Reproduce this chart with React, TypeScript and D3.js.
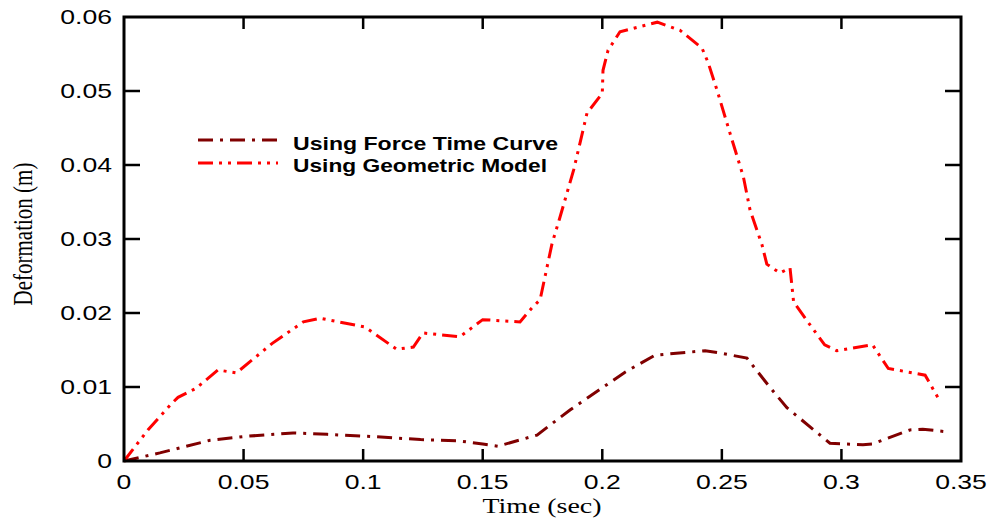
import React from "react";
import * as d3 from "d3";

const forceT = [0, 0.015, 0.036, 0.0498, 0.0707, 0.085, 0.104, 0.124, 0.1405, 0.15, 0.1564, 0.1727, 0.1865, 0.2095, 0.222, 0.243, 0.2492, 0.2605, 0.27, 0.2772, 0.2952, 0.309, 0.313, 0.3287, 0.334, 0.3454];
const forceD = [0, 0.0011, 0.0028, 0.0033, 0.0038, 0.0036, 0.0033, 0.0029, 0.0027, 0.0023, 0.002, 0.0035, 0.0069, 0.012, 0.0143, 0.0149, 0.0146, 0.0139, 0.01, 0.0072, 0.0024, 0.0022, 0.0023, 0.0042, 0.0043, 0.0039];

const geoT = [0, 0.01, 0.02, 0.0226, 0.03, 0.0393, 0.047, 0.062, 0.075, 0.082, 0.1008, 0.114, 0.121, 0.125, 0.1405, 0.15, 0.1656, 0.1706, 0.174, 0.179, 0.182, 0.188, 0.1907, 0.1936, 0.2, 0.2003, 0.2024, 0.2074, 0.223, 0.2325, 0.2417, 0.2443, 0.248, 0.2534, 0.259, 0.2618, 0.2668, 0.2688, 0.2743, 0.2785, 0.28, 0.2855, 0.293, 0.298, 0.313, 0.3196, 0.335, 0.341];
const geoD = [0, 0.0042, 0.0078, 0.0086, 0.0098, 0.0123, 0.0119, 0.0159, 0.0188, 0.0193, 0.0181, 0.0151, 0.0154, 0.0173, 0.0168, 0.0191, 0.0188, 0.0207, 0.0218, 0.0294, 0.0326, 0.0393, 0.043, 0.047, 0.0497, 0.0528, 0.0555, 0.058, 0.0593, 0.0582, 0.0558, 0.0538, 0.0501, 0.0443, 0.0384, 0.0339, 0.0292, 0.0266, 0.0254, 0.0261, 0.0215, 0.019, 0.0157, 0.0149, 0.0157, 0.0125, 0.0116, 0.0082];

const xTicks = [0, 0.05, 0.1, 0.15, 0.2, 0.25, 0.3, 0.35];
const xTickLabels = ["0", "0.05", "0.1", "0.15", "0.2", "0.25", "0.3", "0.35"];
const yTicks = [0, 0.01, 0.02, 0.03, 0.04, 0.05, 0.06];
const yTickLabels = ["0", "0.01", "0.02", "0.03", "0.04", "0.05", "0.06"];

const seriesNames = ["Using Force Time Curve", "Using Geometric Model"];
const seriesColors = ["#800000", "#ff0000"];

export default function App() {
  const L = 124, R = 961, T = 17, B = 461;
  const x = d3.scaleLinear().domain([0, 0.35]).range([L, R]);
  const y = d3.scaleLinear().domain([0, 0.06]).range([B, T]);
  const line = d3.line<[number, number]>().x(d => x(d[0])).y(d => y(d[1]));
  const forcePts = forceT.map((t, i) => [t, forceD[i]] as [number, number]);
  const geoPts = geoT.map((t, i) => [t, geoD[i]] as [number, number]);
  const sx = 1.33;
  const tickFont = "'Liberation Sans', Arial, sans-serif";
  const serif = "'Liberation Serif', 'Times New Roman', serif";

  return (
    <svg width={996} height={519} style={{ position: "absolute", left: 0, top: 0, background: "#fff" }}>
      <rect x={0} y={0} width={996} height={519} fill="#fff" />
      {/* data */}
      <path d={line(forcePts) || ""} fill="none" stroke={seriesColors[0]} strokeWidth={3} strokeDasharray="15,7,3,7" />
      <path d={line(geoPts) || ""} fill="none" stroke={seriesColors[1]} strokeWidth={3} strokeDasharray="15,6,3,6,3,6" />
      {/* ticks */}
      {xTicks.slice(1, -1).map(t => (
        <g key={"xt" + t}>
          <line x1={x(t)} x2={x(t)} y1={B} y2={B - 12} stroke="#000" strokeWidth={2.5} />
          <line x1={x(t)} x2={x(t)} y1={T} y2={T + 12} stroke="#000" strokeWidth={2.5} />
        </g>
      ))}
      {yTicks.slice(1, -1).map(t => (
        <g key={"yt" + t}>
          <line x1={L} x2={L + 16} y1={y(t)} y2={y(t)} stroke="#000" strokeWidth={2.5} />
          <line x1={R} x2={R - 16} y1={y(t)} y2={y(t)} stroke="#000" strokeWidth={2.5} />
        </g>
      ))}
      <rect x={L} y={T} width={R - L} height={B - T} fill="none" stroke="#000" strokeWidth={3} />
      {/* tick labels */}
      {xTicks.map((t, i) => (
        <text key={"xl" + t} transform={`translate(${x(t)},489) scale(${sx},1)`} textAnchor="middle" fontFamily={tickFont} fontSize={20} fill="#000">
          {xTickLabels[i]}
        </text>
      ))}
      {yTicks.map((t, i) => (
        <text key={"yl" + t} transform={`translate(112,${y(t) + 7}) scale(${sx},1)`} textAnchor="end" fontFamily={tickFont} fontSize={20} fill="#000">
          {yTickLabels[i]}
        </text>
      ))}
      {/* axis titles */}
      <text transform={`translate(542,513) scale(${sx},1)`} textAnchor="middle" fontFamily={serif} fontSize={21} fill="#000">Time (sec)</text>
      <text transform={`translate(32,234) scale(${sx},1) rotate(-90)`} textAnchor="middle" fontFamily={serif} fontSize={21} fill="#000">Deformation (m)</text>
      {/* legend */}
      {seriesNames.map((n, i) => (
        <g key={n}>
          <line x1={198} x2={278} y1={140 + i * 23} y2={140 + i * 23} stroke={seriesColors[i]} strokeWidth={3} strokeDasharray={i === 0 ? "15,7,3,7" : "15,6,3,6,3,6"} />
          <text x={293} y={150 + i * 22} fontFamily={tickFont} fontWeight="bold" fontSize={18} textLength={i === 0 ? 265 : 254} lengthAdjust="spacingAndGlyphs" fill="#000">{n}</text>
        </g>
      ))}
    </svg>
  );
}
